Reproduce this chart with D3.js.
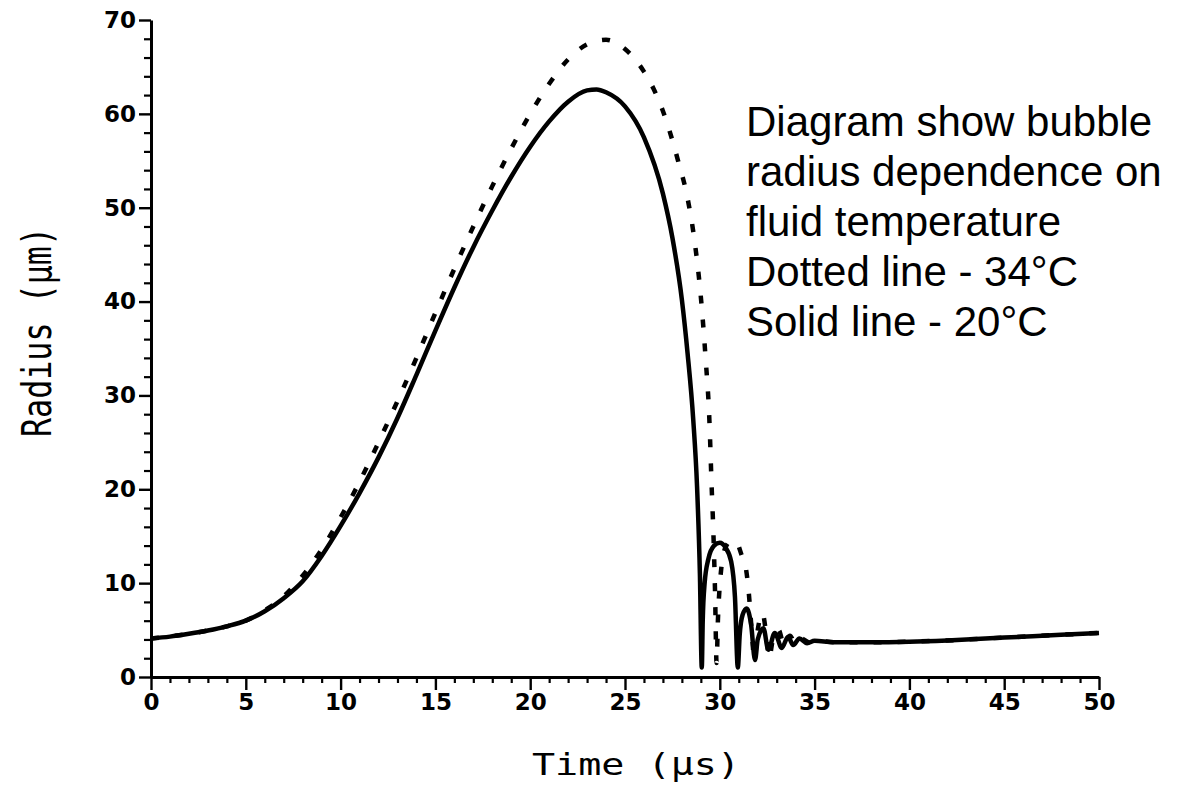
<!DOCTYPE html>
<html>
<head>
<meta charset="utf-8">
<script src="https://cdn.jsdelivr.net/npm/d3@7"></script>
<style>
  html, body { margin: 0; padding: 0; background: #fff; }
  svg { display: block; }
</style>
</head>
<body>
<svg id="chart" width="1180" height="785"></svg>
<script>
// ---- Data ----
const xMajorTicks = [0, 5, 10, 15, 20, 25, 30, 35, 40, 45, 50];
const yMajorTicks = [0, 10, 20, 30, 40, 50, 60, 70];

// Solid line: 20°C
const solidTime = [0, 1, 2, 3, 4, 5, 6, 7, 8, 9, 10, 11, 12, 13, 14, 15, 16, 17, 18, 19, 20, 21, 22, 23, 23.5, 24, 25, 26, 27, 27.5, 28, 28.3, 28.6, 28.8, 28.95, 29.05, 29.1, 29.2, 29.4, 29.7, 30.0, 30.3, 30.6, 30.8, 30.95, 31.05, 31.2, 31.42, 31.65, 31.86, 32.0, 32.3, 32.56, 32.9, 33.27, 33.6, 33.87, 34.2, 34.6, 35, 36, 38, 40, 42, 45, 48, 50];
const solidRadius = [4.1, 4.3, 4.6, 4.95, 5.4, 6.0, 7.0, 8.4, 10.2, 12.9, 16.1, 19.6, 23.4, 27.6, 32.2, 36.9, 41.5, 45.8, 49.7, 53.3, 56.5, 59.2, 61.3, 62.5, 62.6, 62.3, 60.8, 57.5, 51.5, 46.8, 40.2, 34.5, 27.4, 20.3, 11.0, 1.0, 6.0, 10.0, 12.6, 14.0, 14.3, 13.8, 12.3, 8.5, 1.0, 4.5, 6.6, 7.3, 5.6, 1.8, 4.0, 5.2, 2.9, 4.7, 3.1, 4.3, 3.4, 4.1, 3.6, 3.85, 3.7, 3.7, 3.76, 3.9, 4.2, 4.5, 4.7];

// Dotted line: 34°C
const dottedTime = [0, 2, 4, 5, 6, 7, 8, 9, 10, 11, 12, 13, 14, 15, 16, 17, 18, 19, 20, 21, 22, 23, 24, 25, 26, 26.5, 27, 27.3, 27.8, 28.3, 28.7, 29.0, 29.25, 29.45, 29.57, 29.66, 29.75, 29.83, 29.9, 30.05, 30.3, 30.6, 30.9, 31.15, 31.33, 31.5, 31.7, 31.82, 32.0, 32.25, 32.45, 32.6, 32.8, 33.1, 33.4, 33.7, 34.0, 34.3, 34.7, 35.2, 36, 38, 40, 42, 45, 48, 50];
const dottedRadius = [4.1, 4.6, 5.4, 6.0, 7.1, 8.6, 10.8, 13.6, 17.0, 20.8, 25.0, 29.4, 34.0, 38.8, 43.5, 48.0, 52.3, 56.3, 60.0, 63.2, 65.8, 67.4, 67.9, 66.9, 64.5, 62.7, 60.3, 58.5, 55.0, 51.0, 46.0, 40.5, 34.0, 27.4, 20.3, 15.5, 9.0, 1.5, 6.0, 11.0, 13.8, 14.5, 14.3, 13.0, 12.1, 9.6, 4.5, 1.8, 5.0, 6.8, 4.5, 2.0, 4.0, 5.0, 3.3, 4.4, 3.5, 4.1, 3.7, 3.85, 3.7, 3.7, 3.76, 3.9, 4.2, 4.5, 4.7];

const xLabel = "Time  (\u03bcs)";
const yLabel = "Radius (\u03bcm)";
const noteLines = [
  "Diagram show bubble",
  "radius dependence on",
  "fluid temperature",
  "Dotted line - 34\u00b0C",
  "Solid line - 20\u00b0C"
];

// ---- Chart ----
const svg = d3.select("#chart");
svg.append("rect").attr("width", 1180).attr("height", 785).attr("fill", "#fff");

const x = d3.scaleLinear().domain([0, 50]).range([151, 1099]);
const y = d3.scaleLinear().domain([0, 70]).range([677, 20]);

const tickFont = "'DejaVu Sans', sans-serif";

// minor ticks
const xMinor = d3.range(0, 51, 1).filter(v => v % 5 !== 0);
const yMinor = d3.range(0, 71, 2).filter(v => v % 10 !== 0);

svg.append("g")
  .attr("transform", `translate(0,${y(0)})`)
  .call(d3.axisBottom(x).tickValues(xMinor).tickSize(6).tickSizeOuter(0).tickFormat(""))
  .call(g => g.select(".domain").remove())
  .call(g => g.selectAll("line").attr("stroke", "#000").attr("stroke-width", 2.2));

svg.append("g")
  .attr("transform", `translate(${x(0)},0)`)
  .call(d3.axisLeft(y).tickValues(yMinor).tickSize(7).tickSizeOuter(0).tickFormat(""))
  .call(g => g.select(".domain").remove())
  .call(g => g.selectAll("line").attr("stroke", "#000").attr("stroke-width", 2.2));

// major axes
const xAxis = svg.append("g")
  .attr("transform", `translate(0,${y(0)})`)
  .call(d3.axisBottom(x).tickValues(xMajorTicks).tickSize(13).tickSizeOuter(0).tickPadding(4).tickFormat(d3.format("d")));
xAxis.select(".domain").attr("stroke", "#000").attr("stroke-width", 3);
xAxis.selectAll("line").attr("stroke", "#000").attr("stroke-width", 2.4);
xAxis.selectAll("text").attr("fill", "#000")
  .attr("font-family", tickFont).attr("font-size", 23).attr("font-weight", "bold");

const yAxis = svg.append("g")
  .attr("transform", `translate(${x(0)},0)`)
  .call(d3.axisLeft(y).tickValues(yMajorTicks).tickSize(12).tickSizeOuter(0).tickPadding(3).tickFormat(d3.format("d")));
yAxis.select(".domain").attr("stroke", "#000").attr("stroke-width", 3);
yAxis.selectAll("line").attr("stroke", "#000").attr("stroke-width", 2.4);
yAxis.selectAll("text").attr("fill", "#000")
  .attr("font-family", tickFont).attr("font-size", 23).attr("font-weight", "bold");

// lines
const line = d3.line()
  .x(d => x(d[0]))
  .y(d => y(d[1]))
  .curve(d3.curveMonotoneX);

const dottedData = dottedTime.map((t, i) => [t, dottedRadius[i]]);
const solidData = solidTime.map((t, i) => [t, solidRadius[i]]);

svg.append("path")
  .datum(dottedData)
  .attr("d", line)
  .attr("fill", "none")
  .attr("stroke", "#000")
  .attr("stroke-width", 4.5)
  .attr("stroke-dasharray", "8,16");

svg.append("path")
  .datum(solidData)
  .attr("d", line)
  .attr("fill", "none")
  .attr("stroke", "#000")
  .attr("stroke-width", 4.5)
  .attr("stroke-linejoin", "round");

// axis titles
svg.append("text")
  .attr("x", 532)
  .attr("y", 775)
  .attr("textLength", 208)
  .attr("lengthAdjust", "spacingAndGlyphs")
  .style("font-family", "'DejaVu Sans Mono', monospace")
  .style("font-size", "31px")
  .attr("fill", "#000")
  .text(xLabel);

svg.append("text")
  .attr("transform", "translate(51,437) rotate(-90)")
  .attr("x", 0)
  .attr("y", 0)
  .attr("textLength", 210)
  .attr("lengthAdjust", "spacingAndGlyphs")
  .style("font-family", "'DejaVu Sans Mono', monospace")
  .style("font-size", "40px")
  .attr("fill", "#000")
  .text(yLabel);

// annotation
const note = svg.append("text")
  .style("font-family", "'Liberation Sans', Arial, sans-serif")
  .style("font-size", "42px")
  .attr("fill", "#000");
noteLines.forEach((s, i) => {
  note.append("tspan").attr("x", 746).attr("y", 136 + i * 50).text(s);
});
</script>
</body>
</html>
